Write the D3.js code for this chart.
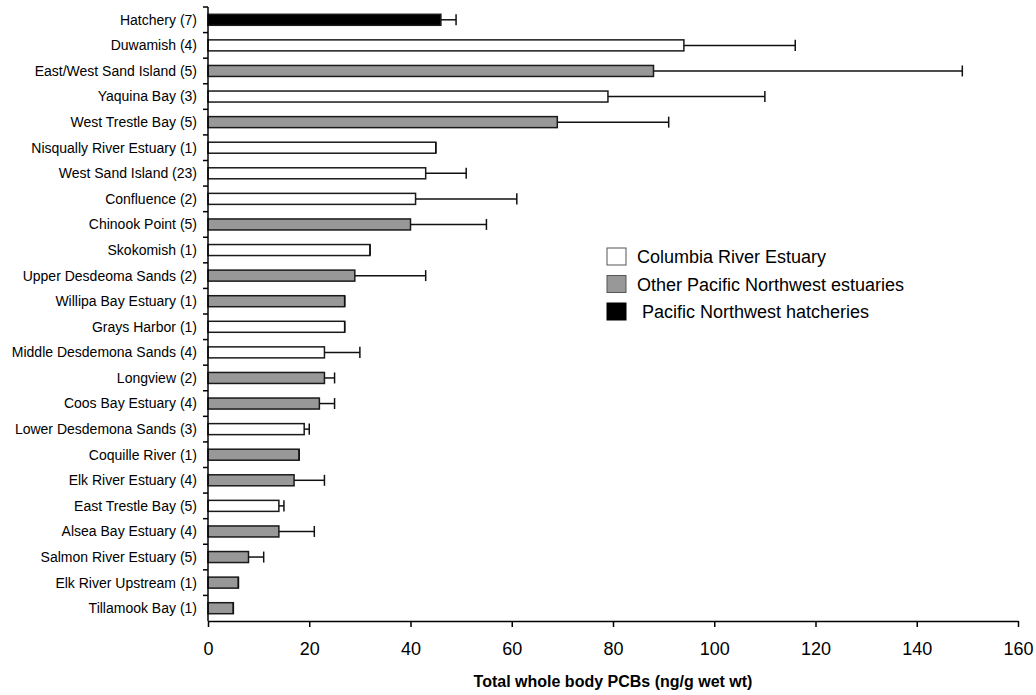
<!DOCTYPE html>
<html>
<head>
<meta charset="utf-8">
<script src="https://cdn.jsdelivr.net/npm/d3@7"></script>
<style>
  html, body { margin: 0; padding: 0; background: #fff; }
  svg { display: block; font-family: Arial, "Liberation Sans", sans-serif; }
</style>
</head>
<body>
<div id="chart"></div>
<script>
// ---------------------------------------------------------
// DATA
// ---------------------------------------------------------
const sites = [
  "Hatchery (7)", "Duwamish (4)", "East/West Sand Island (5)", "Yaquina Bay (3)",
  "West Trestle Bay (5)", "Nisqually River Estuary (1)", "West Sand Island (23)",
  "Confluence (2)", "Chinook Point (5)", "Skokomish (1)", "Upper Desdeoma Sands (2)",
  "Willipa Bay Estuary (1)", "Grays Harbor (1)", "Middle Desdemona Sands (4)",
  "Longview (2)", "Coos Bay Estuary (4)", "Lower Desdemona Sands (3)",
  "Coquille River (1)", "Elk River Estuary (4)", "East Trestle Bay (5)",
  "Alsea Bay Estuary (4)", "Salmon River Estuary (5)", "Elk River Upstream (1)",
  "Tillamook Bay (1)"
];
const means = [46, 94, 88, 79, 69, 45, 43, 41, 40, 32, 29, 27, 27, 23, 23, 22, 19, 18, 17, 14, 14, 8, 6, 5];
const upper = [49, 116, 149, 110, 91, 45, 51, 61, 55, 32, 43, 27, 27, 30, 25, 25, 20, 18, 23, 15, 21, 11, 6, 5];
// C = Columbia River Estuary, O = other PNW estuaries, H = hatcheries
const groups = ["H", "C", "O", "C", "O", "C", "C", "C", "O", "C", "O", "O", "C", "C",
                "O", "O", "C", "O", "O", "C", "O", "O", "O", "O"];
const groupKeys = ["C", "O", "H"];
const groupLabels = ["Columbia River Estuary", "Other Pacific Northwest estuaries", "\u00a0Pacific Northwest hatcheries"];
const xTicks = [0, 20, 40, 60, 80, 100, 120, 140, 160];

// ---------------------------------------------------------
// SETUP
// ---------------------------------------------------------
const width = 1036, height = 695;
const plotLeft = 208, plotRight = 1018, plotTop = 7, plotBottom = 621;

const fill = d3.scaleOrdinal().domain(groupKeys).range(["#ffffff", "#989898", "#000000"]);

const svg = d3.select("#chart").append("svg")
  .attr("width", width)
  .attr("height", height);

const x = d3.scaleLinear().domain([0, 160]).range([plotLeft, plotRight]);
const y = d3.scaleBand().domain(sites).range([plotTop, plotBottom]).paddingInner(0.57).paddingOuter(0.285);
const yAxisBand = d3.scaleBand().domain(sites).range([plotTop, plotBottom]);

const data = sites.map((s, i) => ({ site: s, mean: means[i], upper: upper[i], group: groups[i] }));

// ---------------------------------------------------------
// BARS + ERROR BARS
// ---------------------------------------------------------
svg.append("g").selectAll("rect")
  .data(data)
  .join("rect")
  .attr("x", x(0))
  .attr("y", d => y(d.site))
  .attr("width", d => x(d.mean) - x(0))
  .attr("height", y.bandwidth())
  .attr("fill", d => fill(d.group))
  .attr("stroke", "#1a1a1a")
  .attr("stroke-width", 1.5);

const err = svg.append("g").attr("stroke", "#111").attr("stroke-width", 1.5);
err.selectAll("line.stem")
  .data(data)
  .join("line")
  .attr("class", "stem")
  .attr("x1", d => x(d.mean))
  .attr("x2", d => x(d.upper))
  .attr("y1", d => y(d.site) + y.bandwidth() / 2)
  .attr("y2", d => y(d.site) + y.bandwidth() / 2);
err.selectAll("line.cap")
  .data(data)
  .join("line")
  .attr("class", "cap")
  .attr("x1", d => x(d.upper))
  .attr("x2", d => x(d.upper))
  .attr("y1", d => y(d.site))
  .attr("y2", d => y(d.site) + y.bandwidth());

// ---------------------------------------------------------
// AXES
// ---------------------------------------------------------
const yAx = svg.append("g").attr("transform", `translate(${plotLeft},0)`);
yAx.append("line")
  .attr("x1", 0).attr("x2", 0).attr("y1", plotTop).attr("y2", plotBottom)
  .attr("stroke", "#000").attr("stroke-width", 1.5);
yAx.selectAll("line.tick")
  .data(sites)
  .join("line")
  .attr("class", "tick")
  .attr("x1", -5).attr("x2", 0)
  .attr("y1", d => yAxisBand(d))
  .attr("y2", d => yAxisBand(d))
  .attr("stroke", "#000").attr("stroke-width", 1.5);
yAx.selectAll("text")
  .data(sites)
  .join("text")
  .attr("x", -11)
  .attr("y", d => y(d) + y.bandwidth() / 2)
  .attr("dy", "0.35em")
  .attr("text-anchor", "end")
  .attr("font-size", 14)
  .attr("fill", "#000")
  .text(d => d);

const xAx = svg.append("g")
  .attr("transform", `translate(0,${plotBottom})`)
  .call(d3.axisBottom(x).tickValues(xTicks).tickSize(6).tickPadding(15).tickSizeOuter(0));
xAx.select(".domain").attr("stroke", "#000").attr("stroke-width", 1.5);
xAx.selectAll(".tick line").attr("stroke", "#000").attr("stroke-width", 1.5);
xAx.selectAll(".tick text")
  .attr("font-size", 18)
  .attr("font-family", "Arial, 'Liberation Sans', sans-serif")
  .attr("fill", "#000");

svg.append("text")
  .attr("x", (plotLeft + plotRight) / 2)
  .attr("y", 687)
  .attr("text-anchor", "middle")
  .attr("font-size", 16)
  .attr("font-weight", "bold")
  .text("Total whole body PCBs (ng/g wet wt)");

// ---------------------------------------------------------
// LEGEND
// ---------------------------------------------------------
const legend = svg.append("g").attr("transform", "translate(607,248)");
const items = legend.selectAll("g")
  .data(groupKeys)
  .join("g")
  .attr("transform", (d, i) => `translate(0,${i * 27.5})`);
items.append("rect")
  .attr("width", 19)
  .attr("height", 17)
  .attr("fill", d => fill(d))
  .attr("stroke", d => d === "H" ? "#000" : "#555")
  .attr("stroke-width", 1);
items.append("text")
  .attr("x", 30)
  .attr("y", 15)
  .attr("font-size", 18)
  .attr("fill", "#000")
  .text((d, i) => groupLabels[i]);
</script>
</body>
</html>
